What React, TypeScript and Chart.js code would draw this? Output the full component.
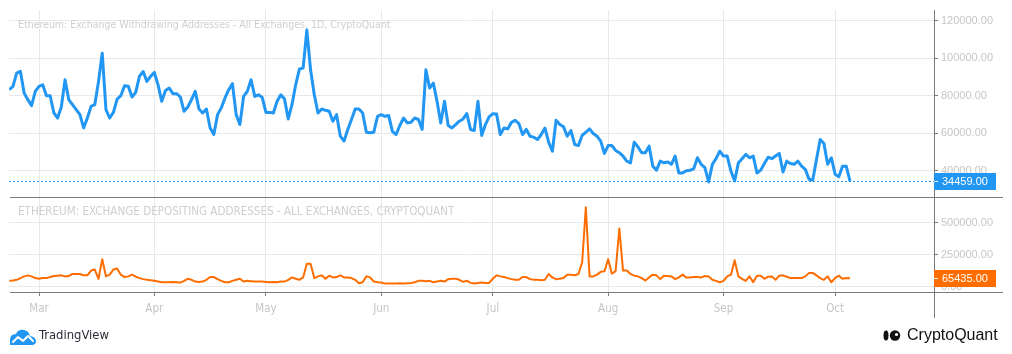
import React, { useEffect, useRef } from "react";
import { Chart, registerables } from "chart.js";

Chart.register(...registerables);

// Day index: Mar 1 = 0. Series start on day -8 (Feb 21) and run daily to Oct 5 (day 218).
const START_DAY = -8;
const monthLabels = ["Mar", "Apr", "May", "Jun", "Jul", "Aug", "Sep", "Oct"];
const monthStartDays = [0, 31, 61, 92, 122, 153, 184, 214];
const topTicks = [40000, 60000, 80000, 100000, 120000];
const bottomTicks = [0, 250000, 500000];

const topTitle = "Ethereum: Exchange Withdrawing Addresses - All Exchanges, 1D, CryptoQuant";
const bottomTitle = "ETHEREUM: EXCHANGE DEPOSITING ADDRESSES - ALL EXCHANGES, CRYPTOQUANT";

const withdrawing = [
  83200, 85000, 92000, 93000, 81400, 77900, 74700, 82300, 85000, 85800,
  80000, 80000, 70800, 68100, 74000, 88500, 77900, 75200, 72600, 69900,
  62800, 68100, 74300, 75200, 87600, 102700, 72600, 68100, 71100, 78200,
  80000, 85300, 85000, 79300, 81800, 90300, 92900, 87600, 90300, 92400,
  85800, 77000, 82800, 84100, 81100, 81100, 79300, 71700, 74000, 77900,
  82300, 72900, 70800, 72900, 62800, 59300, 69900, 73500, 78800, 83200,
  86400, 69900, 64600, 79600, 82300, 88500, 79600, 80500, 79100, 71100,
  71100, 70800, 77000, 80500, 78200, 67600, 75200, 85800, 94200, 94700,
  115000, 93800, 80500, 70800, 72900, 72200, 71700, 66400, 69900, 58400,
  55750, 62000, 67300, 72900, 72900, 70800, 60500, 60200, 60500, 69000,
  69900, 69000, 69400, 61000, 59300, 64100, 68100, 65500, 65800, 68100,
  67300, 62000, 93800, 84100, 86700, 77000, 65500, 77000, 64100, 62800,
  64600, 66400, 67600, 70400, 62000, 61400, 77000, 58800, 64600, 68700,
  70400, 70300, 59300, 62800, 62300, 65800, 66900, 65100, 59300, 62000,
  58400, 57900, 56600, 59300, 62800, 55200, 50400, 66900, 64600, 63400,
  58400, 61400, 54000, 53400, 58800, 60500, 62300, 59800, 58400, 55800,
  49200, 53400, 53400, 50800, 49600, 47800, 45100, 44200, 55200, 52700,
  49600, 49600, 53100, 42400, 40300, 45100, 44200, 44600, 43400,
  47800, 38800, 38800, 40000, 40200, 41000, 46900, 43400, 41600, 34000,
  43400, 46400, 50400, 47800, 47800, 39800, 34500, 44200, 46400, 48700,
  46900, 47800, 38800, 40300, 43800, 47200, 46400, 47800, 49200, 39300,
  45100, 43800, 43400, 45100, 42400, 40700, 35400, 35000, 46000, 56600,
  54500, 43400, 46900, 38100, 36800, 42400, 42400, 34459,
];

const depositing = [
  45700, 48400, 53800, 67200, 80600, 88700, 80600, 67200, 61800, 67200,
  67200, 75300, 83300, 86000, 88700, 80600, 83300, 99500, 99500, 99500,
  88700, 88700, 126000, 134000, 61800, 215000, 80600, 94100, 134000, 142000,
  94100, 75300, 80600, 94100, 78000, 67200, 59100, 53800, 51100, 45700,
  40300, 34900, 34900, 34900, 37600, 34900, 32300, 45700, 61800, 53800,
  40300, 37600, 40300, 53800, 75300, 75300, 59100, 45700, 34900, 34900,
  45700, 53800, 61800, 40300, 45700, 43000, 40300, 40300, 40300, 37600,
  34900, 37600, 34900, 40300, 40300, 53800, 72600, 61800, 53800, 72600,
  180000, 180000, 67200, 80600, 88700, 61800, 86000, 72600, 75300, 88700,
  72600, 72600, 67200, 53800, 26900, 34900, 80600, 72600, 40300, 34900,
  32300, 24200, 24200, 24200, 24200, 26900, 24200, 26900, 29600, 34900,
  45700, 45700, 43000, 45700, 34900, 40300, 45700, 40300, 59100, 61800,
  61800, 53800,
  38000, 47000, 30000, 24200, 29600, 32300, 29600, 29600,
  61800, 88700, 80600, 75300, 67200, 59100, 53800, 53800, 75300, 75300,
  59100, 53800, 53800, 51100, 53800, 99500, 72600, 59100, 61800, 67200,
  94100, 94100, 88700, 99500, 188000, 620000, 80600, 80600, 94100, 116000,
  121000, 215000, 102000, 121000, 455000, 126000, 126000, 99500, 86000, 80600,
  67200, 48400, 72600, 94100, 88700, 59100, 86000, 83300, 80600, 59100,
  72600, 94100, 72600, 72600, 75300, 75300, 72600, 83300, 80600, 53800,
  45700, 34900, 45700, 80600, 94100, 207000, 80600, 61800, 45700, 80600,
  34900, 86000, 86000, 61800, 78000, 80600, 53800, 86000, 88700, 78000,
  67200, 67200, 67200, 67200, 80600, 108000, 108000, 88700, 67200, 53800,
  80600, 34900, 67200, 86000, 61800, 67200, 65435,
];

const FONT = "'Liberation Sans', Arial, sans-serif";
const TITLE_FONT = "'Liberation Sans Narrow', 'DejaVu Sans Condensed', 'Liberation Sans', sans-serif";
const BLUE = "#2196f3";
const ORANGE = "#ff6d00";
const GRID = "#e9e9ec";
const TICK_TEXT = "#c6c6c6";
const TITLE_TEXT = "#cfcfcf";
const AXIS = "#7b7b7b";

function fitFont(ctx: CanvasRenderingContext2D, text: string, target: number, base: number, family: string, weight = "") {
  ctx.font = `${weight} ${base}px ${family}`;
  const w = ctx.measureText(text).width;
  const size = Math.max(8, Math.min(16, (base * target) / w));
  ctx.font = `${weight} ${size}px ${family}`;
}

const overlayPlugin = {
  id: "overlay",
  beforeDatasetsDraw(chart: any) {
    const { ctx, chartArea, scales } = chart;
    ctx.save();
    ctx.fillStyle = TITLE_TEXT;
    ctx.textBaseline = "middle";
    ctx.textAlign = "left";
    fitFont(ctx, topTitle, 373, 12, TITLE_FONT);
    ctx.fillText(topTitle, 18, 25);
    fitFont(ctx, bottomTitle, 437, 12, TITLE_FONT);
    ctx.fillText(bottomTitle, 18, 212);
    // last value dotted line
    const lastTop = withdrawing[withdrawing.length - 1];
    const y = Math.round(scales.yTop.getPixelForValue(lastTop)) + 0.5;
    ctx.strokeStyle = BLUE;
    ctx.lineWidth = 1;
    ctx.setLineDash([2, 2]);
    ctx.beginPath();
    ctx.moveTo(chartArea.left, y);
    ctx.lineTo(chartArea.right, y);
    ctx.stroke();
    ctx.restore();
  },
  afterDraw(chart: any) {
    const { ctx, chartArea, scales } = chart;
    const yTop = scales.yTop;
    const yBot = scales.yBottom;
    const x = scales.x;
    ctx.save();
    ctx.strokeStyle = AXIS;
    ctx.lineWidth = 1;
    ctx.setLineDash([]);
    // pane separators
    for (const yy of [yTop.bottom, yBot.bottom]) {
      const py = Math.round(yy) + 0.5;
      ctx.beginPath();
      ctx.moveTo(10, py);
      ctx.lineTo(1003, py);
      ctx.stroke();
    }
    // right axis line
    const ax = Math.round(chartArea.right) + 0.5;
    ctx.beginPath();
    ctx.moveTo(ax, chartArea.top);
    ctx.lineTo(ax, x.bottom);
    ctx.stroke();

    // last value labels
    const drawTag = (scale: any, value: number, color: string) => {
      const cy = scale.getPixelForValue(value);
      ctx.fillStyle = color;
      ctx.fillRect(chartArea.right, Math.round(cy - 8.5), 62, 17);
      ctx.strokeStyle = "#ffffff";
      ctx.beginPath();
      ctx.moveTo(chartArea.right, Math.round(cy) + 0.5);
      ctx.lineTo(chartArea.right + 4, Math.round(cy) + 0.5);
      ctx.stroke();
      ctx.fillStyle = "#ffffff";
      ctx.font = `11px ${FONT}`;
      ctx.textAlign = "left";
      ctx.textBaseline = "middle";
      ctx.fillText(value.toFixed(2), chartArea.right + 8, Math.round(cy) + 0.5);
    };
    drawTag(yTop, withdrawing[withdrawing.length - 1], BLUE);
    drawTag(yBot, depositing[depositing.length - 1], ORANGE);

    // TradingView logo
    ctx.fillStyle = BLUE;
    ctx.beginPath();
    ctx.moveTo(10, 345);
    ctx.lineTo(10, 340);
    ctx.quadraticCurveTo(10, 334, 16, 334);
    ctx.quadraticCurveTo(18, 329, 24, 330);
    ctx.quadraticCurveTo(29, 331, 30, 336);
    ctx.quadraticCurveTo(36, 337, 36, 341);
    ctx.quadraticCurveTo(36, 345, 32, 345);
    ctx.closePath();
    ctx.fill();
    ctx.strokeStyle = "#ffffff";
    ctx.lineWidth = 2;
    ctx.lineJoin = "round";
    ctx.lineCap = "round";
    ctx.beginPath();
    ctx.moveTo(13, 342);
    ctx.lineTo(18, 337);
    ctx.lineTo(23, 341);
    ctx.lineTo(28, 336);
    ctx.lineTo(33, 341);
    ctx.stroke();
    ctx.fillStyle = "#2a2e39";
    fitFont(ctx, "TradingView", 70, 12.5, TITLE_FONT);
    ctx.textAlign = "left";
    ctx.textBaseline = "middle";
    ctx.fillText("TradingView", 39, 336);

    // CryptoQuant logo
    ctx.fillStyle = "#111111";
    ctx.beginPath();
    ctx.ellipse(886, 335.5, 2.5, 5, 0, 0, Math.PI * 2);
    ctx.fill();
    ctx.beginPath();
    ctx.arc(895, 335.5, 5.2, 0, Math.PI * 2);
    ctx.fill();
    ctx.fillStyle = "#ffffff";
    ctx.beginPath();
    ctx.arc(896.5, 334.5, 1.6, 0, Math.PI * 2);
    ctx.fill();
    ctx.fillStyle = "#111111";
    fitFont(ctx, "CryptoQuant", 93, 15, FONT);
    ctx.fillText("CryptoQuant", 907, 336);
    ctx.restore();
  },
};

export default function App() {
  const canvasRef = useRef<HTMLCanvasElement | null>(null);

  useEffect(() => {
    const canvas = canvasRef.current;
    if (!canvas) return;
    const tickFont = { family: FONT, size: 11 };
    const chart = new Chart(canvas, {
      type: "line",
      data: {
        datasets: [
          {
            label: "Exchange Withdrawing Addresses",
            data: withdrawing.map((v, i) => ({ x: START_DAY + i, y: v })),
            yAxisID: "yTop",
            borderColor: BLUE,
            borderWidth: 3,
            pointRadius: 0,
            tension: 0,
            borderJoinStyle: "round",
            fill: false,
          },
          {
            label: "Exchange Depositing Addresses",
            data: depositing.map((v, i) => ({ x: START_DAY + i, y: v })),
            yAxisID: "yBottom",
            borderColor: ORANGE,
            borderWidth: 2,
            pointRadius: 0,
            tension: 0,
            borderJoinStyle: "round",
            fill: false,
          },
        ],
      },
      options: {
        responsive: false,
        maintainAspectRatio: false,
        animation: false,
        events: [],
        layout: { padding: { left: 9, top: 10, right: 0, bottom: 36 } },
        plugins: {
          legend: { display: false },
          tooltip: { enabled: false },
          title: { display: false },
        },
        scales: {
          x: {
            type: "linear",
            position: "bottom",
            min: (9 - 39) / 3.72,
            max: (934 - 39) / 3.72,
            border: { display: false },
            grid: { color: GRID, tickColor: AXIS, tickLength: 4, drawTicks: true },
            ticks: {
              color: TICK_TEXT,
              font: { family: TITLE_FONT, size: 11.5 },
              padding: 6,
              maxRotation: 0,
              autoSkip: false,
              callback: (value: any) => {
                const idx = monthStartDays.indexOf(Number(value));
                return idx >= 0 ? monthLabels[idx] : "";
              },
            },
            afterBuildTicks: (scale: any) => {
              scale.ticks = monthStartDays.map((v) => ({ value: v }));
            },
            afterFit: (scale: any) => {
              scale.height = 26;
            },
          },
          yTop: {
            type: "linear",
            position: "right",
            stack: "panes",
            stackWeight: 187,
            min: 25973,
            max: 125707,
            border: { display: false },
            grid: { color: GRID, tickColor: AXIS, tickLength: 4, drawTicks: true },
            ticks: {
              color: TICK_TEXT,
              font: tickFont,
              padding: 3,
              callback: (value: any) => Number(value).toFixed(2),
            },
            afterBuildTicks: (scale: any) => {
              scale.ticks = topTicks.map((v) => ({ value: v }));
            },
            afterFit: (scale: any) => {
              scale.width = 78;
            },
          },
          yBottom: {
            type: "linear",
            position: "right",
            stack: "panes",
            stackWeight: 95,
            min: -41400,
            max: 700800,
            border: { display: false },
            grid: { color: GRID, tickColor: AXIS, tickLength: 4, drawTicks: true },
            ticks: {
              color: TICK_TEXT,
              font: tickFont,
              padding: 3,
              callback: (value: any) => Number(value).toFixed(2),
            },
            afterBuildTicks: (scale: any) => {
              scale.ticks = bottomTicks.map((v) => ({ value: v }));
            },
            afterFit: (scale: any) => {
              scale.width = 78;
            },
          },
        },
      } as any,
      plugins: [overlayPlugin],
    });
    return () => chart.destroy();
  }, []);

  return (
    <div style={{ position: "fixed", left: 0, top: 0, width: 1012, height: 354, background: "#ffffff" }}>
      <canvas ref={canvasRef} width={1012} height={354} style={{ display: "block", width: 1012, height: 354 }} />
    </div>
  );
}
